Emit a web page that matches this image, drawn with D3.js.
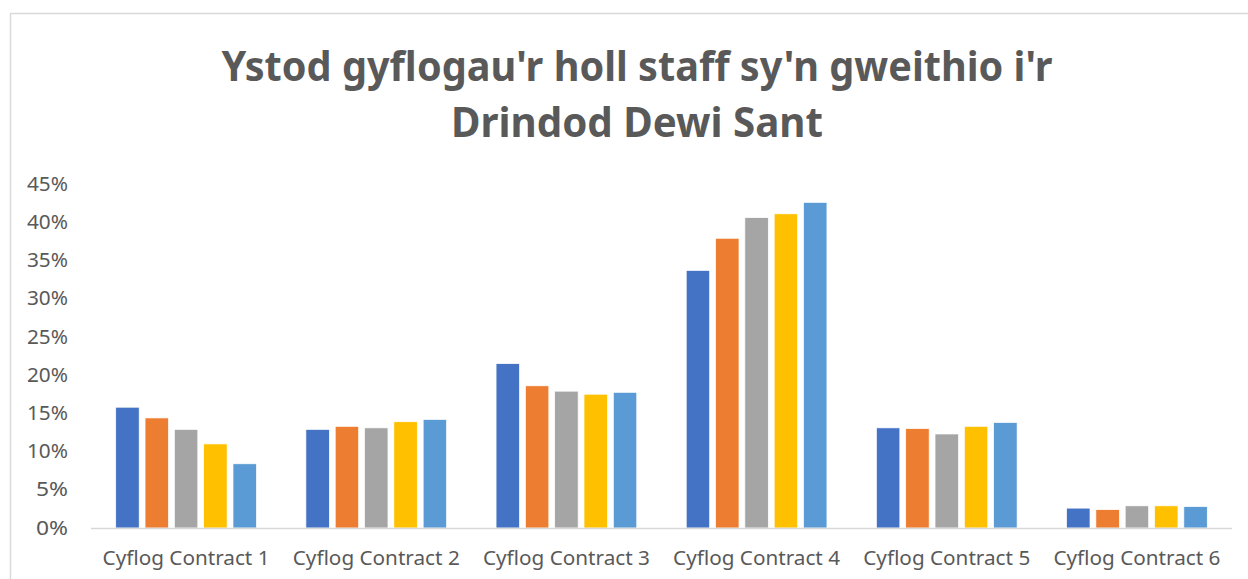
<!DOCTYPE html>
<html>
<head>
<meta charset="utf-8">
<script src="https://cdn.jsdelivr.net/npm/d3@7"></script>
<style>
  body { margin: 0; background: #fff; }
  text { font-family: "Noto Sans", "Open Sans", sans-serif; }
</style>
</head>
<body>
<div id="chart"></div>
<script>
const width = 1248;
const height = 579;

const titleLines = ["Ystod gyflogau'r holl staff sy'n gweithio i'r", "Drindod Dewi Sant"];
const categories = ["Cyflog Contract 1", "Cyflog Contract 2", "Cyflog Contract 3",
                    "Cyflog Contract 4", "Cyflog Contract 5", "Cyflog Contract 6"];
const seriesNames = ["S1", "S2", "S3", "S4", "S5"];
const colors = ["#4472C4", "#ED7D31", "#A5A5A5", "#FFC000", "#5B9BD5"];
// one array per series, values in percent
const s1 = [15.8, 12.9, 21.5, 33.7, 13.1, 2.6];
const s2 = [14.4, 13.3, 18.6, 37.9, 13.0, 2.4];
const s3 = [12.9, 13.1, 17.9, 40.6, 12.3, 2.9];
const s4 = [11.0, 13.9, 17.5, 41.1, 13.3, 2.9];
const s5 = [8.4, 14.2, 17.75, 42.6, 13.8, 2.8];
const yTicks = [0, 5, 10, 15, 20, 25, 30, 35, 40, 45];

const series = [s1, s2, s3, s4, s5];

const margin = { left: 91, right: 16, top: 184, bottom: 51 };

const svg = d3.select("#chart").append("svg")
  .attr("width", width)
  .attr("height", height);

// chart area border (cut off right/bottom)
svg.append("path")
  .attr("d", `M10.5,${height} V13.5 H${width}`)
  .attr("fill", "none")
  .attr("stroke", "#D9D9D9")
  .attr("stroke-width", 1.5);

// title
const titleSizes = [831, 372];
titleLines.forEach((t, i) => {
  svg.append("text")
    .attr("x", 637)
    .attr("y", 81 + i * 56)
    .attr("text-anchor", "middle")
    .attr("font-size", "41px")
    .attr("font-weight", "bold")
    .attr("fill", "#595959")
    .attr("textLength", titleSizes[i])
    .attr("lengthAdjust", "spacingAndGlyphs")
    .text(t);
});

const x0 = d3.scaleBand()
  .domain(categories)
  .range([margin.left, width - margin.right])
  .paddingInner(0.26)
  .paddingOuter(0.13);

const x1 = d3.scaleBand()
  .domain(seriesNames)
  .range([0, x0.bandwidth()])
  .paddingInner(0.2);

const y = d3.scaleLinear()
  .domain([0, 45])
  .range([height - margin.bottom, margin.top]);

// y axis labels
svg.append("g")
  .selectAll("text")
  .data(yTicks)
  .enter()
  .append("text")
  .attr("x", 68)
  .attr("y", d => y(d))
  .attr("dy", "0.35em")
  .attr("text-anchor", "end")
  .attr("font-size", "19px")
  .attr("fill", "#595959")
  .attr("textLength", d => d < 10 ? 32 : 41)
  .attr("lengthAdjust", "spacingAndGlyphs")
  .text(d => d + "%");

// bars
const groups = svg.append("g")
  .selectAll("g")
  .data(categories)
  .enter()
  .append("g")
  .attr("transform", d => `translate(${x0(d)},0)`);

groups.selectAll("rect")
  .data((c, ci) => series.map((s, si) => ({ key: seriesNames[si], value: s[ci], color: colors[si] })))
  .enter()
  .append("rect")
  .attr("x", d => x1(d.key))
  .attr("y", d => y(d.value))
  .attr("width", x1.bandwidth())
  .attr("height", d => y(0) - y(d.value))
  .attr("fill", d => d.color)
  .attr("stroke", "#fff")
  .attr("stroke-width", 0.7);

// baseline
svg.append("line")
  .attr("x1", margin.left)
  .attr("x2", width - margin.right)
  .attr("y1", y(0) + 0.5)
  .attr("y2", y(0) + 0.5)
  .attr("stroke", "#D9D9D9")
  .attr("stroke-width", 1.5);

// category labels
svg.append("g")
  .selectAll("text")
  .data(categories)
  .enter()
  .append("text")
  .attr("x", d => x0(d) + x0.bandwidth() / 2)
  .attr("y", 558)
  .attr("dy", "0.35em")
  .attr("text-anchor", "middle")
  .attr("font-size", "19px")
  .attr("fill", "#595959")
  .attr("textLength", 167)
  .attr("lengthAdjust", "spacingAndGlyphs")
  .text(d => d);
</script>
</body>
</html>
